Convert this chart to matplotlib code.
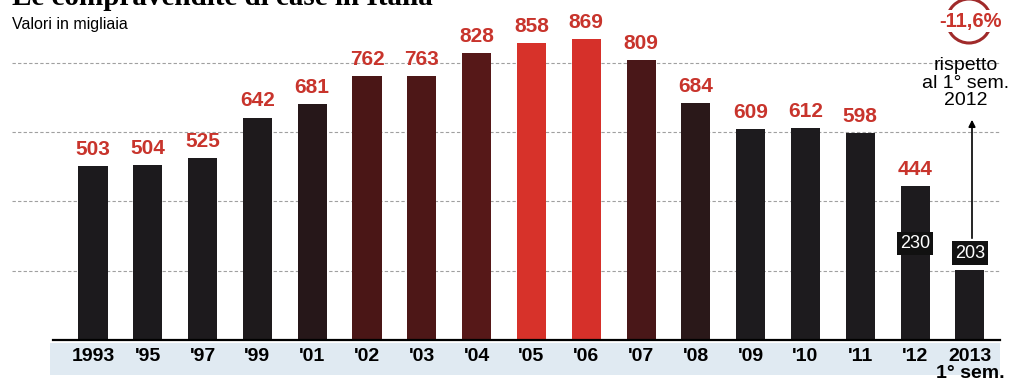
import matplotlib.pyplot as plt
from matplotlib.patches import Rectangle, Circle

# dati: compravendite di case in Italia (migliaia)
anni = ["1993", "'95", "'97", "'99", "'01", "'02", "'03", "'04", "'05",
        "'06", "'07", "'08", "'09", "'10", "'11", "'12", "2013\n1° sem."]
valori = [503, 504, 525, 642, 681, 762, 763, 828, 858,
          869, 809, 684, 609, 612, 598, 444, 203]
# primo semestre ('12 e 2013)
sem_idx = [15, 16]
sem_val = [230, 203]
variazione = "-11,6%"

colori = ["#1c1a1d", "#1c1a1d", "#1d1a1d", "#1e1a1c", "#261719", "#4a1616",
          "#4d1717", "#561818", "#d7322a", "#d6302a", "#491718", "#2a1819",
          "#1d1b1e", "#1d1b1e", "#1d1b1e", "#1d1b1e", "#1d1b1e"]
rosso = "#c8342c"

plt.rcParams['font.family'] = ['Liberation Sans', 'DejaVu Sans']

W, H = 1029, 390
fig = plt.figure(figsize=(W / 100, H / 100), dpi=100)
ax = fig.add_axes([12 / W, 50 / H, 988 / W, 311.8 / H])

x = list(range(len(valori)))
ax.set_xlim(-1.478, 16.55)
ax.set_ylim(0, 900)

# griglia tratteggiata
for g in [200, 400, 600, 800]:
    ax.axhline(g, color="#a0a0a0", lw=0.8, ls=(0, (3, 2)), zorder=0)

ax.bar(x, valori, width=0.53, color=colori, zorder=2)
ax.plot([-0.73, 16.55], [0, 0], color="black", lw=1.6, zorder=3, clip_on=False)

# etichette valori annuali
for i, v in enumerate(valori[:-1]):
    ax.annotate(str(v), (i, v), xytext=(0, 8), textcoords="offset points",
                ha="center", va="baseline", color=rosso, fontsize=15,
                fontweight="bold", annotation_clip=False)

# valori del primo semestre in box neri
for i, v in zip(sem_idx, sem_val):
    ax.annotate(str(v), (i, v), xytext=(0, 12), textcoords="offset points",
                ha="center", va="center", color="white", fontsize=13,
                bbox=dict(boxstyle="square,pad=0.18", fc="#111111", ec="none"),
                zorder=5)

ax.set_xticks(x)
ax.set_xticklabels(anni, fontsize=14, fontweight="bold", linespacing=1.0)
ax.tick_params(axis="x", length=0, pad=6)
ax.set_yticks([])
for s in ax.spines.values():
    s.set_visible(False)
ax.patch.set_alpha(0)

# fascia azzurra dietro le etichette
fig.add_artist(Rectangle((50, H - 375), 950, 32, transform=None,
                         fc="#e0eaf2", ec="none", zorder=-1))

# titolo (tagliato in alto, come nell'originale) e sottotitolo
fig.text(12 / W, 1 - 5 / H, "Le compravendite di case in Italia",
         family="Liberation Serif", fontweight="bold", fontsize=21,
         va="baseline", ha="left")
fig.text(12 / W, 1 - 24 / H, "Valori in migliaia", fontsize=11.5,
         va="center", ha="left")

# nota a destra
fig.add_artist(Circle((969, H - 21), 22, transform=None, fill=False,
                      ec="#a02a2a", lw=2.2))
fig.text(970 / W, 1 - 21 / H, variazione, color=rosso, fontsize=14.5,
         fontweight="bold", ha="center", va="center",
         bbox=dict(boxstyle="square,pad=0.05", fc="white", ec="none"))
fig.text(966 / W, 1 - 83 / H, "rispetto\nal 1° sem.\n2012", fontsize=14,
         ha="center", va="center", linespacing=1.02)
ax.annotate("", xy=(972, H - 117), xycoords="figure pixels",
            xytext=(972, H - 241), textcoords="figure pixels",
            arrowprops=dict(arrowstyle="-|>", color="black", lw=1.2,
                            mutation_scale=10))

fig.savefig("out.png", dpi=100)
